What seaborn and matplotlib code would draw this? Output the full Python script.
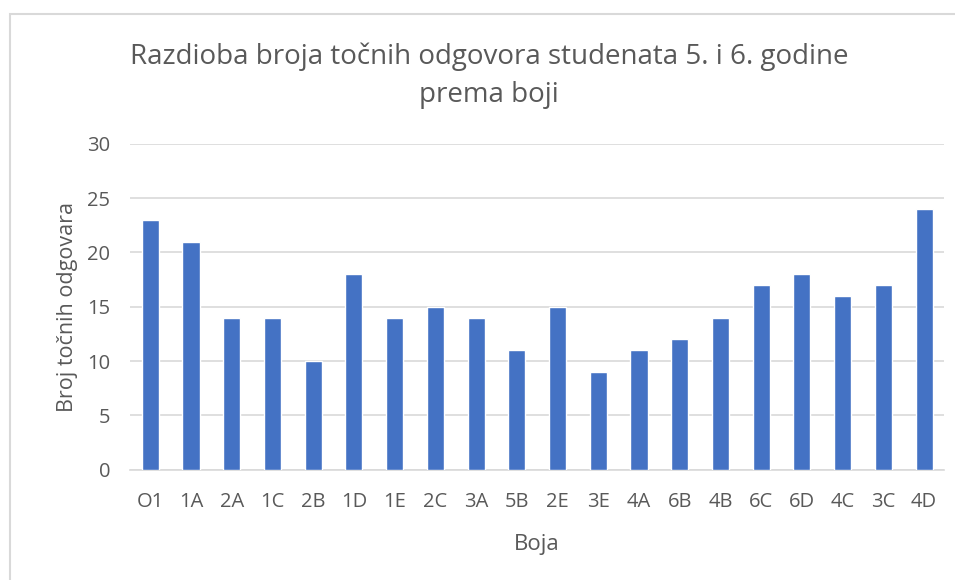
import matplotlib
matplotlib.use("Agg")
import matplotlib.pyplot as plt
import seaborn as sns
import pandas as pd
from matplotlib.patches import Rectangle

# Data
boje = ["O1", "1A", "2A", "1C", "2B", "1D", "1E", "2C", "3A", "5B",
        "2E", "3E", "4A", "6B", "4B", "6C", "6D", "4C", "3C", "4D"]
tocni = [23, 21, 14, 14, 10, 18, 14, 15, 14, 11,
         15, 9, 11, 12, 14, 17, 18, 16, 17, 24]
y_ticks = [0, 5, 10, 15, 20, 25, 30]

sns.set_theme(style="white")
plt.rcParams["font.family"] = ["Open Sans", "DejaVu Sans"]
grey = "#595959"

df = pd.DataFrame({"boja": boje, "tocni": tocni})

fig = plt.figure(figsize=(9.55, 5.8), dpi=100)
ax = fig.add_axes([0.136, 0.19, 0.853, 0.562])

sns.barplot(data=df, x="boja", y="tocni", color="#4472C4", width=0.42,
            saturation=1, ax=ax, zorder=3)

ax.set_ylim(0, 30)
ax.set_yticks(y_ticks)
ax.set_xlim(-0.5, len(boje) - 0.5)
ax.yaxis.grid(True, color="#d9d9d9", linewidth=1.2, zorder=0)
ax.set_axisbelow(True)
for s in ["top", "right", "left"]:
    ax.spines[s].set_visible(False)
ax.spines["bottom"].set_color("#d9d9d9")
ax.spines["bottom"].set_linewidth(1.2)
ax.tick_params(axis="both", length=0, labelsize=14.5, labelcolor=grey)
ax.tick_params(axis="y", pad=14)
ax.tick_params(axis="x", pad=16)

ax.set_xlabel("Boja", fontsize=16, color=grey, labelpad=16)
ax.set_ylabel("Broj točnih odgovara", fontsize=15.5, color=grey, labelpad=7)

fig.text(0.512, 0.869, "Razdioba broja točnih odgovora studenata 5. i 6. godine\nprema boji",
         ha="center", va="center", fontsize=20, color=grey, linespacing=1.5)

# light chart border (Excel-like frame)
fig.patches.append(Rectangle((10 / 955, -0.1), 1.2, 1 - 14 / 580 + 0.1,
                             transform=fig.transFigure, fill=False,
                             edgecolor="#d9d9d9", linewidth=1.5))

fig.savefig("out.png", dpi=100)
